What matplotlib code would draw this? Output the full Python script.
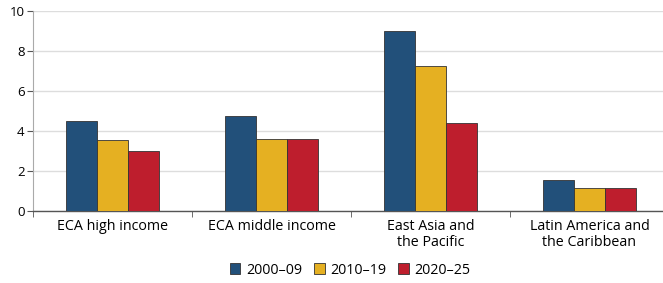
import matplotlib
matplotlib.use("Agg")
import matplotlib.pyplot as plt
import numpy as np

categories = ["ECA high income", "ECA middle income", "East Asia and\nthe Pacific", "Latin America and\nthe Caribbean"]
series_names = ["2000–09", "2010–19", "2020–25"]
v2000 = [4.5, 4.75, 9.0, 1.53]
v2010 = [3.55, 3.6, 7.25, 1.15]
v2020 = [3.0, 3.6, 4.4, 1.15]
yticks = [0, 2, 4, 6, 8, 10]

colors = ["#22507A", "#E5B022", "#BE1E2D"]

plt.rcParams['font.family'] = ['Open Sans', 'DejaVu Sans']

fig = plt.figure(figsize=(6.63, 2.83), dpi=100)
ax = fig.add_axes([33/663, 1-211/283, 636/663, 200/283])

x = np.arange(len(categories))
w = 0.195
for i, (vals, name) in enumerate(zip([v2000, v2010, v2020], series_names)):
    ax.bar(x + (i-1)*w, vals, width=w, color=colors[i], edgecolor="#333333", linewidth=0.6, label=name, zorder=3)

ax.set_xlim(-0.5, len(categories)-0.5)
ax.set_ylim(0, 10)
ax.set_yticks(yticks)
ax.set_yticklabels([str(t) for t in yticks], fontsize=9.5)
ax.yaxis.grid(True, color="#DDDDDD", linewidth=1.0, zorder=0)
ax.set_axisbelow(True)

ax.set_xticks(x)
ax.set_xticklabels(categories, fontsize=10.3, linespacing=1.05)
ax.tick_params(axis='x', which='major', length=0, pad=6)
ax.set_xticks(np.arange(len(categories)) - 0.5, minor=True)
ax.tick_params(axis='x', which='minor', length=4, color="#555555", direction='out')
ax.tick_params(axis='y', length=4, color="#555555", pad=2)

for s in ["top", "right"]:
    ax.spines[s].set_visible(False)
ax.spines["left"].set_color("#AAAAAA")
ax.spines["bottom"].set_color("#555555")
ax.spines["bottom"].set_linewidth(1.0)

handles, labels = ax.get_legend_handles_labels()
fig.legend(handles, labels, loc="center", bbox_to_anchor=(350/663, 1-270/283), ncol=3,
           frameon=False, fontsize=10.3, handlelength=0.75, handleheight=0.75,
           handletextpad=0.4, columnspacing=0.8)

fig.savefig("out.png", dpi=100)
